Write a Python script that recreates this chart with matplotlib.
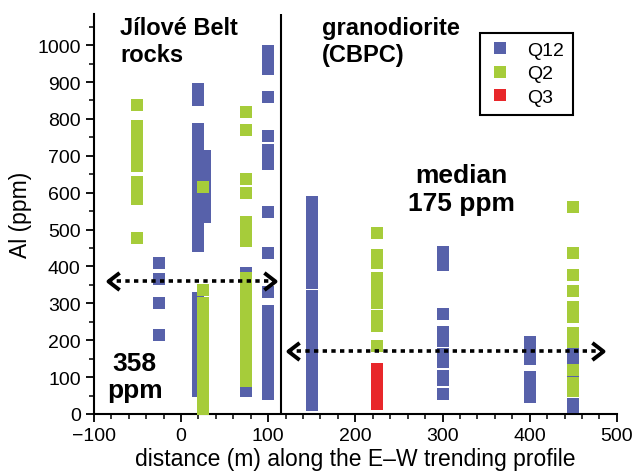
import numpy as np
import matplotlib
matplotlib.use("Agg")
import matplotlib.pyplot as plt
from matplotlib.path import Path

plt.rcParams['font.family'] = ['Liberation Sans', 'DejaVu Sans']

# Al (ppm) values per sampling position (m) along the profile
q12 = {
    -25: [410, 365, 300, 215],
    20: [882, 866, 850, 772, 752, 720, 700, 668, 650, 632, 615, 598, 580, 562,
         545, 528, 510, 478, 455, 315, 298, 280, 262, 250, 238, 220, 188, 172,
         156, 140, 124, 108, 92, 76, 62],
    27: [700, 683, 665, 648, 630, 612, 595, 565, 550, 535],
    75: [382, 372, 75, 63],
    100: [985, 968, 952, 935, 860, 755, 715, 695, 677, 548, 437, 330, 280, 265,
          250, 235, 220, 205, 190, 175, 160, 145, 130, 115, 100, 85, 70, 55],
    150: [575, 545, 525, 505, 485, 465, 445, 425, 408, 393, 375, 356, 320, 305,
          290, 275, 260, 245, 230, 215, 200, 185, 170, 155, 140, 125, 110, 95,
          80, 65, 50, 35, 25],
    300: [440, 420, 405, 270, 222, 210, 198, 163, 150, 141, 104, 92, 55],
    400: [196, 180, 165, 149, 101, 87, 73, 60, 46],
    450: [163, 152, 100, 27, 19],
}
q2 = {
    -50: [838, 780, 765, 750, 735, 720, 705, 690, 672, 628, 612, 598, 584, 478],
    25: [615, 337, 302, 288, 274, 260, 246, 232, 218, 204, 190, 176, 162, 148,
         134, 120, 106, 92, 78, 64, 50, 36, 22, 14],
    75: [820, 770, 636, 600, 520, 505, 490, 468, 368, 352, 337, 322, 307, 292,
         277, 262, 247, 232, 217, 202, 187, 172, 157, 142, 127, 112, 97, 90],
    225: [490, 430, 410, 368, 350, 335, 318, 302, 265, 250, 238, 185],
    450: [562, 437, 377, 333, 291, 277, 263, 220, 207, 195, 120, 84, 62],
}
q3 = {
    225: [123, 110, 97, 84, 71, 58, 45, 32, 27],
}

blue = '#5761aa'
green = '#a6cc3a'
red = '#e8272a'


def flatten(groups):
    xs, ys = [], []
    for pos, vals in groups.items():
        xs += [pos] * len(vals)
        ys += vals
    return np.array(xs), np.array(ys)


fig = plt.figure(figsize=(6.34, 4.77), dpi=100)
ax = fig.add_axes([0.148, 0.130, 0.825, 0.839])

for groups, col, lab in [(q12, blue, 'Q12'), (q2, green, 'Q2'), (q3, red, 'Q3')]:
    xs, ys = flatten(groups)
    ax.plot(xs, ys, 's', ms=8.6, mew=0, color=col, label=lab, zorder=3)

ax.axvline(115, color='black', lw=1.5, zorder=2)

# dotted double arrows with open chevron heads
left_head = Path([(1.3, 1), (0, 0), (1.3, -1)], [Path.MOVETO, Path.LINETO, Path.LINETO])
right_head = Path([(-1.3, 1), (0, 0), (-1.3, -1)], [Path.MOVETO, Path.LINETO, Path.LINETO])
for x0, x1, yv in [(-84, 108, 360), (123, 484, 172)]:
    ax.plot([x0, x1], [yv, yv], color='black', lw=2.6, ls=(0, (1.2, 1.2)),
            dash_capstyle='butt', zorder=5)
    ax.plot([x0], [yv], marker=left_head, ms=16, mfc='none', mec='black', mew=2.8, zorder=5)
    ax.plot([x1], [yv], marker=right_head, ms=16, mfc='none', mec='black', mew=2.8, zorder=5)

ax.text(-70, 1078, 'Jílové Belt\nrocks', fontsize=17, fontweight='bold', va='top', ha='left')
ax.text(162, 1078, 'granodiorite\n(CBPC)', fontsize=17, fontweight='bold', va='top', ha='left')
ax.text(322, 680, 'median\n175 ppm', fontsize=19, fontweight='bold', va='top', ha='center',
        multialignment='center')
ax.text(-53, 172, '358\nppm', fontsize=19, fontweight='bold', va='top', ha='center',
        multialignment='center')

ax.set_xlim(-100, 500)
ax.set_ylim(0, 1085)
ax.set_xticks(np.arange(-100, 501, 100))
ax.set_xticks(np.arange(-100, 501, 20), minor=True)
ax.set_yticks(np.arange(0, 1001, 100))
ax.set_yticks(np.arange(0, 1051, 50), minor=True)
ax.tick_params(which='major', direction='out', length=6, width=1.3, labelsize=14)
ax.tick_params(which='minor', direction='out', length=3.5, width=1.1)
for side in ['top', 'right']:
    ax.spines[side].set_visible(False)
for side in ['left', 'bottom']:
    ax.spines[side].set_linewidth(1.5)

ax.set_xlabel('distance (m) along the E–W trending profile', fontsize=16.5, labelpad=2)
ax.set_ylabel('Al (ppm)', fontsize=16.5, labelpad=4)

leg = ax.legend(loc='upper left', bbox_to_anchor=(0.738, 0.953), fontsize=14, numpoints=1,
                fancybox=False, framealpha=1, edgecolor='black', labelspacing=0.3,
                handlelength=1.2, handletextpad=0.8, borderpad=0.45, borderaxespad=0)
leg.get_frame().set_linewidth(1.5)

fig.savefig('out.png', dpi=100)
